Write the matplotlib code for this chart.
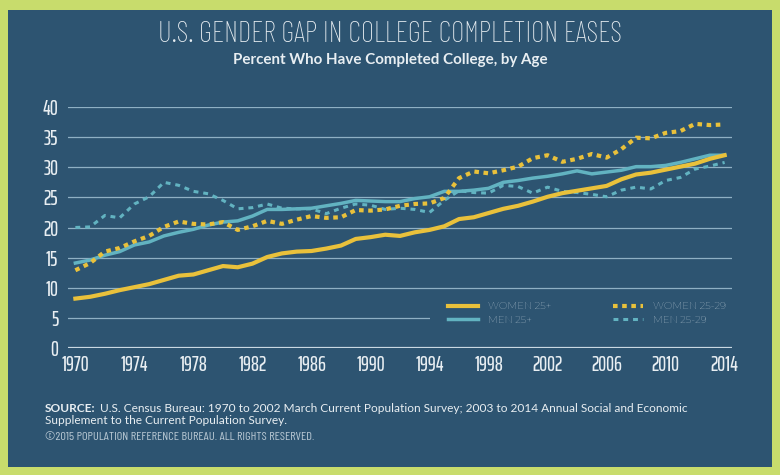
import numpy as np
import matplotlib
matplotlib.use('Agg')
from matplotlib import pyplot as plt
from matplotlib.patches import Rectangle

## years and series (percent who completed college)
years = list(range(1970, 2015))

women_25 = [8.2, 8.5, 9.0, 9.6, 10.1, 10.6, 11.3, 12.0, 12.2, 12.9,
            13.6, 13.4, 14.0, 15.1, 15.7, 16.0, 16.1, 16.5, 17.0, 18.1,
            18.4, 18.8, 18.6, 19.2, 19.6, 20.2, 21.4, 21.7, 22.4, 23.1,
            23.6, 24.3, 25.1, 25.7, 26.1, 26.5, 26.9, 28.0, 28.8, 29.1,
            29.6, 30.1, 30.6, 31.4, 32.0]

men_25 = [14.1, 14.6, 15.4, 16.0, 17.1, 17.6, 18.6, 19.2, 19.7, 20.4,
          20.9, 21.1, 21.9, 23.0, 23.0, 23.1, 23.2, 23.6, 24.0, 24.5,
          24.4, 24.3, 24.3, 24.8, 25.1, 26.0, 26.0, 26.2, 26.5, 27.5,
          27.8, 28.2, 28.5, 28.9, 29.4, 28.9, 29.2, 29.5, 30.1, 30.1,
          30.3, 30.8, 31.4, 32.0, 32.0]

women_2529 = [12.9, 14.1, 16.0, 16.6, 17.7, 18.6, 20.1, 21.0, 20.6, 20.5,
              20.9, 19.6, 20.2, 21.1, 20.6, 21.3, 21.9, 21.6, 21.7, 22.9,
              22.8, 23.0, 23.6, 23.9, 24.0, 24.9, 28.2, 29.3, 29.0, 29.5,
              30.1, 31.5, 32.0, 30.9, 31.4, 32.2, 31.6, 33.0, 34.9, 34.8,
              35.7, 36.0, 37.2, 37.0, 37.1]

men_2529 = [20.0, 20.1, 22.0, 21.6, 23.9, 25.1, 27.5, 27.0, 26.0, 25.6,
            24.5, 23.1, 23.3, 23.9, 23.2, 23.1, 23.1, 22.3, 23.2, 23.9,
            23.7, 23.0, 23.2, 23.0, 22.5, 24.5, 26.1, 25.8, 25.7, 27.0,
            26.8, 25.7, 26.7, 26.0, 25.8, 25.5, 25.1, 26.2, 26.7, 26.4,
            27.8, 28.3, 29.7, 30.2, 30.8]

xtick_years = list(range(1970, 2015, 4))
ytick_vals = list(range(0, 41, 5))

## colours
bg = '#2d5471'
border = '#c8dc6c'
gold = '#e9c13b'
teal = '#62b3c1'
grid = '#8fb0c4'
txt = '#e8eef2'

ticks_font = ['Saira ExtraCondensed', 'League Gothic', 'DejaVu Sans']
thin = ['Barlow Condensed', 'Saira ExtraCondensed', 'DejaVu Sans']
body = ['Lato', 'DejaVu Sans']
caps = ['Montserrat', 'DejaVu Sans']

fig = plt.figure(figsize=(7.8, 4.75), dpi=100, facecolor=border)
fig.add_artist(Rectangle((8 / 780, 8 / 475), 764 / 780, 457 / 475,
                         transform=fig.transFigure, facecolor=bg,
                         edgecolor='none', zorder=-5))

ax = fig.add_axes([68 / 780, 127 / 475, 664 / 780, 241 / 475])
ax.set_facecolor('none')

for v in ytick_vals[1:]:
    ax.axhline(v, color=grid, linewidth=0.9, zorder=1)
ax.axhline(0, color='#c9d8e2', linewidth=1.6, zorder=1)

## blank area behind the legend
ax.add_patch(Rectangle((0.545, 0.04), 0.47, 0.155, transform=ax.transAxes,
                       facecolor=bg, edgecolor='none', zorder=1.5,
                       clip_on=False))

ax.plot(years, women_25, color=gold, linewidth=3, label='WOMEN 25+', zorder=4)
ax.plot(years, men_25, color=teal, linewidth=2.5, label='MEN 25+', zorder=3)
ax.plot(years, women_2529, color=gold, linewidth=3, linestyle=(0, (1.1, 1.1)),
        label='WOMEN 25-29', zorder=3)
ax.plot(years, men_2529, color=teal, linewidth=2.2, linestyle=(0, (1.6, 1.6)),
        label='MEN 25-29', zorder=2)

ax.set_xlim(1969.5, 2014.5)
ax.set_ylim(0, 40)
ax.set_xticks(xtick_years)
ax.set_yticks(ytick_vals)
for s in ax.spines.values():
    s.set_visible(False)
ax.tick_params(length=0, colors=txt, labelsize=14.5)
ax.tick_params(axis='y', pad=7)
ax.tick_params(axis='x', pad=5)
for lab in ax.get_xticklabels() + ax.get_yticklabels():
    lab.set_family(ticks_font)
    lab.set_fontweight(500)

leg = ax.legend(loc='upper left', bbox_to_anchor=(0.572, 0.19), ncol=2,
                frameon=False, labelcolor='#d6e1e8',
                handlelength=3.0, columnspacing=6.0, labelspacing=0.45,
                borderpad=0, borderaxespad=0, handletextpad=1.0,
                prop={'family': caps, 'size': 7.3})
leg.set_zorder(5)

renderer = fig.canvas.get_renderer()


def fit(t, width_px):
    ## scale a text so it spans the given width
    w = t.get_window_extent(renderer).width
    t.set_fontsize(t.get_fontsize() * width_px / w)


## titles
title = fig.text(0.5, 1 - 35 / 475, 'U.S. GENDER GAP IN COLLEGE COMPLETION EASES',
                 ha='center', va='center', color=txt, fontsize=20,
                 family=thin, fontweight=250)
fit(title, 465)
sub = fig.text(0.5, 1 - 60 / 475, 'Percent Who Have Completed College, by Age',
               ha='center', va='center', color=txt, fontsize=9.5,
               family=body, fontweight='bold')
fit(sub, 315)

## source notes
y1 = 1 - 409 / 475
src = fig.text(45 / 780, y1, 'SOURCE:', color=txt, fontsize=7,
               fontweight='bold', va='center', family=body)
rest_txt = ('U.S. Census Bureau: 1970 to 2002 March Current Population Survey; '
            '2003 to 2014 Annual Social and Economic')
rest = fig.text(0, y1, rest_txt, color=txt, fontsize=7, va='center', family=body)
span = src.get_window_extent(renderer).width + 4 + rest.get_window_extent(renderer).width
scale = 644 / span
src.set_fontsize(7 * scale)
rest.set_fontsize(7 * scale)
rest.set_x(src.get_window_extent(renderer).x1 / 780 + 4 * scale / 780)
line2 = fig.text(45 / 780, 1 - 421 / 475,
                 'Supplement to the Current Population Survey.', color=txt,
                 fontsize=7 * scale, va='center', family=body)
copy = fig.text(45 / 780, 1 - 437 / 475,
                '\u00a92015 POPULATION REFERENCE BUREAU. ALL RIGHTS RESERVED.',
                color='#b9c9d4', fontsize=6, va='center', family=thin)
fit(copy, 272)

fig.savefig('out.png', dpi=100, facecolor=border)
